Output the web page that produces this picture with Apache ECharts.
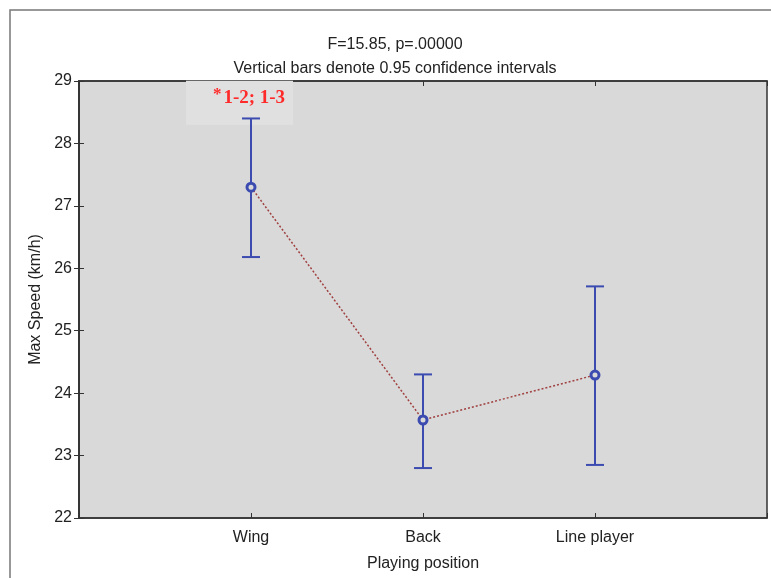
<!DOCTYPE html>
<html>
<head>
<meta charset="utf-8">
<script src="https://cdn.jsdelivr.net/npm/echarts@6/dist/echarts.min.js"></script>
<style>
  html, body { margin: 0; padding: 0; background: #fff; }
  #chart { width: 771px; height: 578px; }
</style>
</head>
<body>
<div id="chart"></div>
<script>
    const positions = ['Wing', 'Back', 'Line player'];
    const means = [27.3, 23.57, 24.29];
    const ciLow = [26.18, 22.8, 22.85];
    const ciHigh = [28.4, 24.3, 25.71];
    const yTicks = [22, 23, 24, 25, 26, 27, 28, 29];
    const note = '1-2; 1-3';

    let chart = echarts.init(document.getElementById('chart'));
    let font = 'Liberation Sans, Arial, sans-serif';

    // x positions 1..n, axis runs 0..n+1
    let meanData = means.map((m, i) => [i + 1, m]);
    let barData = means.map((m, i) => [i + 1, ciLow[i], ciHigh[i]]);

    const renderBar = (params, api) => {
        let x = api.value(0);
        let lo = api.coord([x, api.value(1)]);
        let hi = api.coord([x, api.value(2)]);
        let style = { stroke: '#3b4bb0', lineWidth: 2 };
        return {
            type: 'group',
            children: [
                { type: 'line', shape: { x1: lo[0], y1: lo[1], x2: hi[0], y2: hi[1] }, style: style },
                { type: 'line', shape: { x1: hi[0] - 9, y1: hi[1], x2: hi[0] + 9, y2: hi[1] }, style: style },
                { type: 'line', shape: { x1: lo[0] - 9, y1: lo[1], x2: lo[0] + 9, y2: lo[1] }, style: style }
            ]
        };
    };

    const renderNote = (params, api) => {
        let p = api.coord([api.value(0), api.value(1)]);
        return {
            type: 'group',
            children: [
                {
                    type: 'rect',
                    shape: { x: p[0] - 65, y: p[1] - 17, width: 107, height: 44 },
                    style: { fill: '#e0e0e0' }
                },
                {
                    type: 'text',
                    x: p[0] - 2,
                    y: p[1],
                    style: {
                        text: '{s|*}{t|' + note + '}',
                        align: 'center',
                        verticalAlign: 'middle',
                        rich: {
                            s: { fill: '#ff2a2a', fontSize: 17, fontFamily: 'Liberation Serif', fontWeight: 'bold', verticalAlign: 'top', padding: [0, 2, 6, 0] },
                            t: { fill: '#ff2a2a', fontSize: 19, fontFamily: 'Liberation Serif', fontWeight: 'bold' }
                        }
                    }
                }
            ]
        };
    };

    let option = {
        backgroundColor: '#fff',
        animation: false,
        title: {
            text: 'F=15.85, p=.00000\nVertical bars denote 0.95 confidence intervals',
            left: 390,
            top: 28,
            textAlign: 'center',
            textStyle: { fontFamily: font, fontSize: 16, fontWeight: 'normal', color: '#222', lineHeight: 24 }
        },
        graphic: [
            {
                type: 'rect',
                shape: { x: 10, y: 10, width: 800, height: 620 },
                style: { fill: 'none', stroke: '#777', lineWidth: 1.5 },
                silent: true
            }
        ],
        grid: {
            left: 79,
            right: 4,
            top: 81,
            bottom: 60,
            show: true,
            backgroundColor: '#d9d9d9',
            borderColor: '#333',
            borderWidth: 1.5
        },
        xAxis: [
            {
                type: 'value',
                min: 0,
                max: positions.length + 1,
                interval: 1,
                name: 'Playing position',
                nameLocation: 'middle',
                nameGap: 38,
                nameTextStyle: { fontFamily: font, fontSize: 16, color: '#222' },
                splitLine: { show: false },
                axisLine: { lineStyle: { color: '#333', width: 1.5 } },
                axisTick: { inside: true, length: 5, lineStyle: { color: '#333' } },
                axisLabel: {
                    fontFamily: font,
                    fontSize: 16,
                    color: '#222',
                    margin: 12,
                    formatter: v => positions[v - 1] || ''
                }
            },
            {
                type: 'value',
                position: 'top',
                min: 0,
                max: positions.length + 1,
                interval: 1,
                splitLine: { show: false },
                axisLine: { lineStyle: { color: '#333', width: 1.5 } },
                axisTick: { inside: true, length: 5, lineStyle: { color: '#333' } },
                axisLabel: { show: false }
            }
        ],
        yAxis: [
            {
                type: 'value',
                min: yTicks[0],
                max: yTicks[yTicks.length - 1],
                interval: 1,
                name: 'Max Speed (km/h)',
                nameLocation: 'middle',
                nameGap: 29,
                nameTextStyle: { fontFamily: font, fontSize: 16, color: '#222' },
                splitLine: { show: false },
                axisLine: { show: true, lineStyle: { color: '#333', width: 1.5 } },
                axisTick: { show: true, inside: true, length: 5, lineStyle: { color: '#333' } },
                axisLabel: { fontFamily: font, fontSize: 16, color: '#222', margin: 7 }
            },
            {
                type: 'value',
                position: 'right',
                min: yTicks[0],
                max: yTicks[yTicks.length - 1],
                interval: 1,
                splitLine: { show: false },
                axisLine: { show: true, lineStyle: { color: '#333', width: 1.5 } },
                axisTick: { show: true, inside: true, length: 5, lineStyle: { color: '#333' } },
                axisLabel: { show: false }
            }
        ],
        series: [
            {
                name: 'ci',
                type: 'custom',
                renderItem: renderBar,
                data: barData,
                encode: { x: 0, y: [1, 2] },
                z: 2
            },
            {
                name: 'mean',
                type: 'line',
                data: meanData,
                symbol: 'circle',
                symbolSize: 8,
                itemStyle: { color: '#d9d9d9', borderColor: '#3b4bb0', borderWidth: 3 },
                lineStyle: { color: '#a04040', width: 1.5, type: [2, 2] },
                z: 3
            },
            {
                name: 'note',
                type: 'custom',
                renderItem: renderNote,
                data: [[1, 28.73]],
                z: 1
            }
        ]
    };
    chart.setOption(option);
</script>
</body>
</html>
